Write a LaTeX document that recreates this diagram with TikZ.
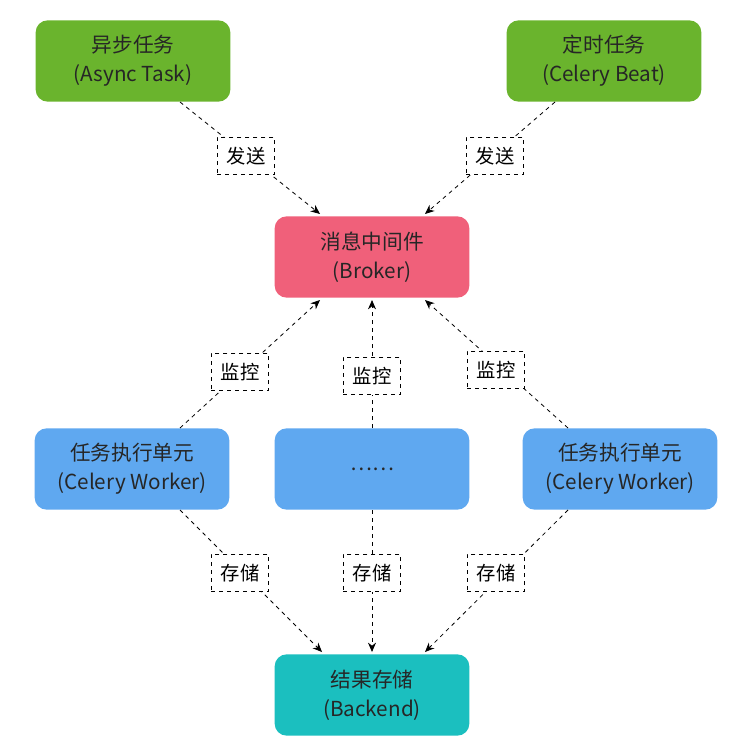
\documentclass[tikz,border=0pt]{standalone}
\usepackage{fontspec}
\setmainfont{Noto Sans CJK SC}
\usetikzlibrary{arrows.meta}
\definecolor{cgreen}{HTML}{6AB42D}
\definecolor{cred}{HTML}{F0607A}
\definecolor{cblue}{HTML}{5FA8F0}
\definecolor{cteal}{HTML}{1BBFBF}
\begin{document}
\begin{tikzpicture}[x=0.75pt,y=-0.75pt,
  box/.style={rounded corners=9pt,minimum width=146pt,minimum height=61pt,inner sep=0pt,align=center,font=\fontsize{15.5}{22}\selectfont,text=black!85},
  lab/.style={draw,dashed,fill=white,inner sep=0pt,minimum width=43pt,minimum height=28pt,font=\fontsize{14.5}{16}\selectfont},
  conn/.style={dashed,-{Stealth[length=7pt,width=6pt]},line width=0.6pt}]
\useasboundingbox (0,0) rectangle (755,741);
\node[box,fill=cgreen] (a) at (133,61) {异步任务\\(Async Task)};
\node[box,fill=cgreen] (b) at (604,61) {定时任务\\(Celery Beat)};
\node[box,fill=cred] (k) at (372,257) {消息中间件\\(Broker)};
\node[box,fill=cblue] (w1) at (132,469) {任务执行单元\\(Celery Worker)};
\node[box,fill=cblue] (w2) at (372,469) {……};
\node[box,fill=cblue] (w3) at (620,469) {任务执行单元\\(Celery Worker)};
\node[box,fill=cteal] (d) at (372,695) {结果存储\\(Backend)};
\coordinate (a1) at (180,102); \coordinate (b1) at (555,102);
\coordinate (k1) at (320,214); \coordinate (k2) at (425,214);
\coordinate (k3) at (320,300); \coordinate (k4) at (372,300); \coordinate (k5) at (425,300);
\coordinate (w1t) at (180,428); \coordinate (w2t) at (372,428); \coordinate (w3t) at (568,428);
\coordinate (w1b) at (180,510); \coordinate (w2b) at (372,510); \coordinate (w3b) at (568,510);
\coordinate (d1) at (322,652); \coordinate (d2) at (372,652); \coordinate (d3) at (425,652);
\draw[conn] (a1) -- (k1);
\draw[conn] (b1) -- (k2);
\draw[conn] (w1t) -- (k3);
\draw[conn] (w2t) -- (k4);
\draw[conn] (w3t) -- (k5);
\draw[conn] (w1b) -- (d1);
\draw[conn] (w2b) -- (d2);
\draw[conn] (w3b) -- (d3);
\node[lab] (l1) at (246,156) {发送};
\node[lab] (l2) at (495,156) {发送};
\node[lab] (l3) at (240,372) {监控};
\node[lab] (l4) at (372,376) {监控};
\node[lab] (l5) at (496,370) {监控};
\node[lab] (l6) at (240,573) {存储};
\node[lab] (l7) at (372,573) {存储};
\node[lab] (l8) at (496,573) {存储};
\end{tikzpicture}
\end{document}
